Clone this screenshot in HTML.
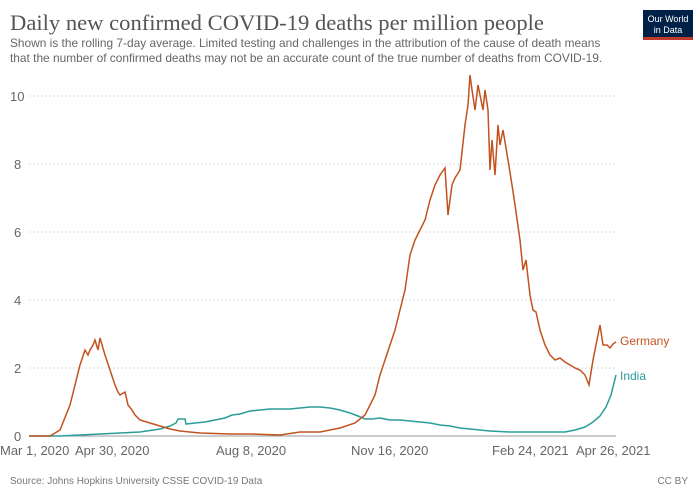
<!DOCTYPE html><html><head><style>
body{margin:0;background:#fff;width:700px;height:497px;overflow:hidden;font-family:"Liberation Sans",sans-serif}
</style></head><body>
<svg width="700" height="497" xmlns="http://www.w3.org/2000/svg">
<text x="10" y="30" font-family="Liberation Serif,serif" font-size="22.6" fill="#555">Daily new confirmed COVID-19 deaths per million people</text>
<text x="10" y="47" font-size="11.9" fill="#666">Shown is the rolling 7-day average. Limited testing and challenges in the attribution of the cause of death means</text>
<text x="10" y="62" font-size="11.9" fill="#666">that the number of confirmed deaths may not be an accurate count of the true number of deaths from COVID-19.</text>
<rect x="643" y="10" width="50" height="28" fill="#002147"/><rect x="643" y="37" width="50" height="3" fill="#c0392b"/>
<text x="668" y="22" font-size="9" fill="#fff" text-anchor="middle">Our World</text>
<text x="668" y="33" font-size="9" fill="#fff" text-anchor="middle">in Data</text>
<g stroke="#ddd" stroke-dasharray="2,2">
<line x1="29" x2="616" y1="96" y2="96"/><line x1="29" x2="616" y1="164" y2="164"/><line x1="29" x2="616" y1="232" y2="232"/><line x1="29" x2="616" y1="300" y2="300"/><line x1="29" x2="616" y1="368" y2="368"/></g>
<line x1="29" x2="616" y1="436" y2="436" stroke="#999"/>
<g font-size="13" fill="#666">
<text x="10" y="101">10</text><text x="14" y="169">8</text><text x="14" y="237">6</text><text x="14" y="305">4</text><text x="14" y="373">2</text><text x="14" y="441">0</text>
<text x="0" y="455">Mar 1, 2020</text><text x="75" y="455">Apr 30, 2020</text><text x="216" y="455">Aug 8, 2020</text><text x="351" y="455">Nov 16, 2020</text><text x="492" y="455">Feb 24, 2021</text><text x="576" y="455">Apr 26, 2021</text>
</g>
<polyline fill="none" stroke="#2a9d9a" stroke-width="1.5" points="29,436 60,436 80,435 100,434 120,433 140,432 160,429 170,426 176,423 178,419 185,419 186,424 195,423 205,422 215,420 225,418 232,415 240,414 250,411 260,410 270,409 280,409 290,409 300,408 310,407 320,407 330,408 340,410 350,413 358,416 365,419 372,419 380,418 390,420 400,420 410,421 420,422 430,423 440,425 450,426 460,428 470,429 480,430 490,431 510,432 530,432 550,432 565,432 575,430 585,427 593,422 600,416 606,407 611,395 616,375"/>
<polyline fill="none" stroke="#c2531f" stroke-width="1.5" points="29,436 50,436 60,430 70,405 80,365 85,350 88,355 90,350 93,345 95,340 98,350 100,338 105,355 110,370 115,385 118,392 120,395 125,392 128,405 132,410 135,415 140,420 150,423 160,426 170,429 180,431 200,433 230,434 250,434 280,435 300,432 320,432 340,428 355,423 365,415 375,395 380,375 385,360 390,345 395,330 400,310 405,290 410,255 415,240 420,230 425,220 430,200 435,185 440,175 445,168 448,215 452,185 455,178 460,170 465,125 468,105 470,75 472,90 475,110 478,85 480,95 483,110 485,90 488,110 490,170 492,140 495,175 498,125 500,145 503,130 508,160 512,185 515,205 520,240 523,270 526,260 530,295 533,310 536,312 540,330 545,345 550,355 555,360 560,358 565,362 570,365 575,368 580,370 585,375 589,385 593,360 597,340 600,325 603,345 607,345 610,348 613,344 616,342"/>
<text x="620" y="345" font-size="12" fill="#c2531f">Germany</text>
<text x="620" y="380" font-size="12" fill="#2a9d9a">India</text>
<text x="10" y="484" font-size="10" fill="#777">Source: Johns Hopkins University CSSE COVID-19 Data</text>
<text x="688" y="484" font-size="10" fill="#777" text-anchor="end">CC BY</text>
</svg></body></html>
